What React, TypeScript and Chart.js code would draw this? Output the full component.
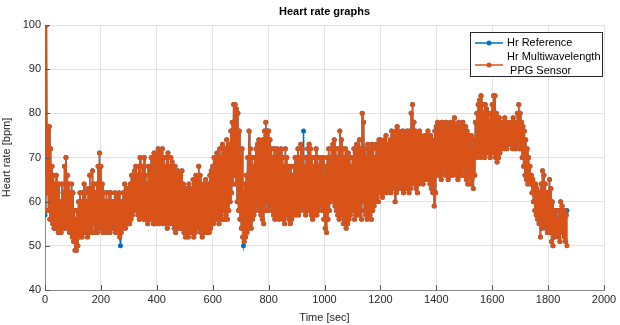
import { useEffect, useRef } from "react";
import { Chart, registerables } from "chart.js";
Chart.register(...registerables);

const titleText = "Heart rate graphs";
const xTitle = "Time [sec]";
const yTitle = "Heart rate [bpm]";
const seriesNames = ["Hr Reference", "Hr Multiwavelength", " PPG Sensor"];
const xTicks = [0, 200, 400, 600, 800, 1000, 1200, 1400, 1600, 1800, 2000];
const yTicks = [40, 50, 60, 70, 80, 90, 100];
const sampleStep = 5; // seconds between beat pairs; "low" beat follows "high" beat by half a step

// PPG heart rate: upper beats at t = 0, 5, 10, ... (one row per 100 s)
const ppgHigh = [
  65, 100, 77, 77, 72, 68, 66, 64, 66, 62, 64, 60, 64, 62, 68, 70, 66, 64, 62, 64, // 0
  62, 58, 56, 58, 60, 62, 60, 62, 64, 62, 60, 63, 66, 63, 67, 64, 62, 64, 68, 71, // 100
  68, 64, 62, 60, 62, 60, 62, 62, 60, 60, 62, 61, 60, 62, 60, 60, 62, 64, 62, 63, // 200
  62, 64, 66, 65, 67, 68, 66, 68, 70, 66, 68, 70, 66, 64, 68, 67, 70, 70, 71, 70, // 300
  71, 72, 70, 71, 72, 70, 68, 70, 71, 68, 70, 69, 67, 68, 66, 67, 65, 66, 67, 64, // 400
  63, 62, 63, 64, 62, 63, 65, 64, 66, 65, 68, 66, 64, 63, 64, 65, 63, 64, 66, 67, // 500
  68, 70, 69, 71, 70, 72, 70, 73, 71, 72, 74, 72, 73, 76, 78, 82, 82, 81, 80, 76, // 600
  70, 72, 62, 64, 66, 70, 76, 72, 70, 68, 70, 72, 73, 74, 72, 73, 74, 76, 78, 76, // 700
  76, 74, 72, 70, 72, 70, 72, 71, 70, 72, 70, 68, 72, 70, 68, 66, 68, 66, 68, 70, // 800
  70, 72, 70, 73, 72, 70, 68, 70, 72, 73, 72, 70, 68, 70, 72, 70, 68, 70, 69, 70, // 900
  66, 68, 70, 72, 70, 72, 73, 74, 72, 70, 72, 76, 74, 72, 70, 72, 70, 71, 70, 68, // 1000
  70, 72, 71, 73, 72, 74, 72, 80, 78, 72, 70, 73, 72, 71, 73, 72, 70, 73, 72, 74, // 1100
  74, 72, 73, 74, 75, 73, 72, 74, 76, 75, 74, 76, 77, 76, 75, 74, 76, 75, 74, 76, // 1200
  75, 76, 80, 82, 78, 76, 75, 74, 76, 75, 74, 73, 75, 74, 76, 74, 75, 74, 73, 76, // 1300
  77, 78, 76, 77, 78, 77, 76, 78, 77, 76, 78, 77, 78, 79, 77, 76, 78, 77, 76, 78, // 1400
  76, 77, 76, 75, 74, 75, 72, 74, 78, 80, 82, 83, 84, 82, 80, 82, 81, 80, 78, 80, // 1500
  82, 84, 84, 80, 78, 79, 78, 77, 78, 79, 78, 77, 78, 77, 78, 79, 78, 77, 80, 82, // 1600
  80, 78, 77, 76, 74, 72, 70, 68, 66, 65, 64, 64, 63, 62, 62, 64, 67, 66, 64, 62, // 1700
  62, 65, 63, 60, 58, 57, 58, 56, 58, 60, 59, 57, 58, 57, // 1800
];

// PPG heart rate: lower beats at t = 2.5, 7.5, 12.5, ...
const ppgLow = [
  58, 62, 58, 56, 56, 55, 54, 54, 55, 53, 54, 53, 54, 55, 54, 55, 54, 53, 54, 52, // 0
  51, 49, 49, 50, 52, 53, 52, 53, 54, 53, 52, 53, 54, 53, 55, 53, 54, 53, 55, 54, // 100
  54, 53, 54, 53, 54, 55, 53, 54, 54, 55, 53, 54, 53, 52, 53, 54, 55, 54, 55, 55, // 200
  55, 56, 57, 58, 59, 58, 57, 56, 58, 57, 56, 57, 56, 55, 56, 57, 56, 55, 55, 56, // 300
  56, 55, 56, 57, 55, 56, 55, 54, 56, 55, 56, 55, 54, 53, 54, 55, 54, 55, 54, 53, // 400
  52, 53, 52, 53, 54, 53, 52, 53, 54, 55, 54, 53, 52, 53, 54, 53, 54, 53, 54, 55, // 500
  55, 56, 57, 56, 55, 57, 56, 58, 56, 57, 56, 58, 60, 62, 64, 66, 64, 60, 58, 56, // 600
  54, 52, 51, 52, 53, 54, 55, 54, 56, 57, 58, 60, 59, 58, 57, 56, 55, 58, 60, 58, // 700
  60, 59, 58, 57, 56, 58, 57, 56, 58, 57, 56, 55, 57, 58, 56, 55, 56, 57, 58, 57, // 800
  58, 57, 58, 60, 59, 58, 57, 58, 59, 58, 57, 56, 57, 58, 57, 58, 59, 60, 58, 56, // 900
  54, 53, 56, 58, 60, 61, 60, 59, 58, 57, 56, 58, 57, 55, 56, 54, 55, 56, 57, 58, // 1000
  58, 56, 57, 58, 57, 58, 56, 60, 58, 57, 56, 58, 57, 56, 58, 59, 60, 61, 60, 62, // 1100
  62, 61, 62, 63, 62, 64, 63, 62, 63, 64, 60, 62, 63, 64, 65, 63, 62, 63, 64, 63, // 1200
  62, 63, 64, 65, 64, 63, 62, 64, 65, 66, 64, 65, 66, 65, 66, 64, 63, 62, 59, 62, // 1300
  66, 67, 66, 65, 67, 68, 66, 67, 65, 66, 67, 66, 68, 67, 66, 65, 66, 67, 66, 68, // 1400
  66, 65, 64, 66, 64, 65, 63, 66, 70, 72, 71, 70, 72, 71, 70, 72, 71, 72, 70, 71, // 1500
  72, 71, 70, 69, 70, 71, 72, 73, 72, 73, 72, 73, 74, 73, 72, 73, 72, 73, 74, 72, // 1600
  72, 70, 68, 66, 65, 64, 65, 64, 62, 60, 58, 57, 56, 55, 52, 54, 56, 55, 54, 53, // 1700
  54, 53, 51, 50, 52, 53, 54, 52, 51, 53, 54, 52, 51, 50, // 1800
];

// Reference values where they differ from the PPG sensor: [time, bpm]
const referenceDiffs: [number, number][] = [
  [0, 57], [75, 70], [270, 50], [710, 50], [925, 76], [1150, 57], [1867.5, 58],
];

const BLUE = "#0072BD";
const ORANGE = "#D95319";
const FONT = "'Liberation Sans', Arial, Helvetica, sans-serif";

export default function App() {
  const ref = useRef<HTMLCanvasElement | null>(null);
  useEffect(() => {
    document.body.style.margin = "0";
    const canvas = ref.current!;
    const ppgData: { x: number; y: number }[] = [];
    ppgHigh.forEach((v, i) => {
      ppgData.push({ x: i * sampleStep, y: v });
      if (i < ppgLow.length) ppgData.push({ x: i * sampleStep + sampleStep / 2, y: ppgLow[i] });
    });
    const diffMap = new Map(referenceDiffs.map(([t, v]) => [t, v]));
    const refData = ppgData.map((p) => ({ x: p.x, y: diffMap.has(p.x) ? (diffMap.get(p.x) as number) : p.y }));

    const overlay = {
      id: "overlay",
      afterDraw(chart: any) {
        const ctx = chart.ctx;
        const a = chart.chartArea;
        const xs = chart.scales.x;
        const ys = chart.scales.y;
        ctx.save();
        ctx.fillStyle = "#000";
        ctx.font = `bold 11px ${FONT}`;
        ctx.textAlign = "center";
        ctx.textBaseline = "middle";
        ctx.fillText(titleText, (a.left + a.right) / 2, 12);
        ctx.strokeStyle = "#555";
        ctx.lineWidth = 1;
        ctx.beginPath();
        for (const t of xTicks) {
          const px = Math.round(xs.getPixelForValue(t)) + 0.5;
          ctx.moveTo(px, a.bottom);
          ctx.lineTo(px, a.bottom - 5);
        }
        for (const t of yTicks) {
          const py = Math.round(ys.getPixelForValue(t)) + 0.5;
          ctx.moveTo(a.left, py);
          ctx.lineTo(a.left + 5, py);
        }
        ctx.stroke();
        const bx = 470.5, by = 32.5, bw = 132, bh = 44;
        ctx.fillStyle = "#fff";
        ctx.fillRect(bx, by, bw, bh);
        ctx.strokeStyle = "#262626";
        ctx.lineWidth = 1;
        ctx.strokeRect(bx, by, bw, bh);
        const drawSample = (y: number, color: string) => {
          ctx.strokeStyle = color;
          ctx.lineWidth = 1.5;
          ctx.beginPath();
          ctx.moveTo(475, y);
          ctx.lineTo(503, y);
          ctx.stroke();
          ctx.fillStyle = color;
          ctx.beginPath();
          ctx.arc(489, y, 2.5, 0, Math.PI * 2);
          ctx.fill();
        };
        drawSample(43, BLUE);
        drawSample(65, ORANGE);
        ctx.fillStyle = "#000";
        ctx.font = `11px ${FONT}`;
        ctx.textAlign = "left";
        ctx.fillText(seriesNames[0], 507, 43);
        ctx.fillText(seriesNames[1], 507, 57);
        ctx.fillText(seriesNames[2], 507, 71);
        ctx.restore();
      },
    };

    const tickFont = { family: FONT, size: 11 };
    const chart = new Chart(canvas, {
      type: "line",
      data: {
        datasets: [
          {
            label: seriesNames[0],
            data: refData,
            borderColor: BLUE,
            backgroundColor: BLUE,
            borderWidth: 1.5,
            pointRadius: 2.5,
            pointBorderWidth: 0,
            pointBackgroundColor: BLUE,
            order: 2,
          },
          {
            label: seriesNames[1] + seriesNames[2],
            data: ppgData,
            borderColor: ORANGE,
            backgroundColor: ORANGE,
            borderWidth: 1.5,
            pointRadius: 2.5,
            pointBorderWidth: 0,
            pointBackgroundColor: ORANGE,
            order: 1,
          },
        ],
      },
      options: {
        responsive: false,
        animation: false,
        events: [],
        layout: { padding: { top: 25, right: 16, left: 0, bottom: 0 } },
        plugins: { legend: { display: false }, title: { display: false }, tooltip: { enabled: false } },
        scales: {
          x: {
            type: "linear",
            min: 0,
            max: 2000,
            afterBuildTicks: (s: any) => { s.ticks = xTicks.map((v) => ({ value: v })); },
            afterFit: (s: any) => { s.height = 35; },
            ticks: { color: "#262626", font: tickFont, padding: 3, maxRotation: 0, callback: (v: any) => String(v) },
            grid: { color: "#e3e3e3", drawTicks: false, lineWidth: 1 },
            border: { color: "#8a8a8a", width: 1 },
            title: { display: true, text: xTitle, color: "#262626", font: tickFont, padding: { top: 2, bottom: 0 } },
          },
          y: {
            type: "linear",
            min: 40,
            max: 100,
            afterBuildTicks: (s: any) => { s.ticks = yTicks.map((v) => ({ value: v })); },
            afterFit: (s: any) => { s.width = 45; },
            ticks: { color: "#262626", font: tickFont, padding: 4, callback: (v: any) => String(v) },
            grid: { color: "#e3e3e3", drawTicks: false, lineWidth: 1 },
            border: { color: "#8a8a8a", width: 1 },
            title: { display: true, text: yTitle, color: "#262626", font: tickFont, padding: { top: 0, bottom: 0 } },
          },
        },
      },
      plugins: [overlay],
    } as any);
    return () => chart.destroy();
  }, []);
  return (
    <div style={{ position: "absolute", left: 0, top: 0, width: 620, height: 325, background: "#fff" }}>
      <canvas ref={ref} width={620} height={325} style={{ display: "block" }} />
    </div>
  );
}
